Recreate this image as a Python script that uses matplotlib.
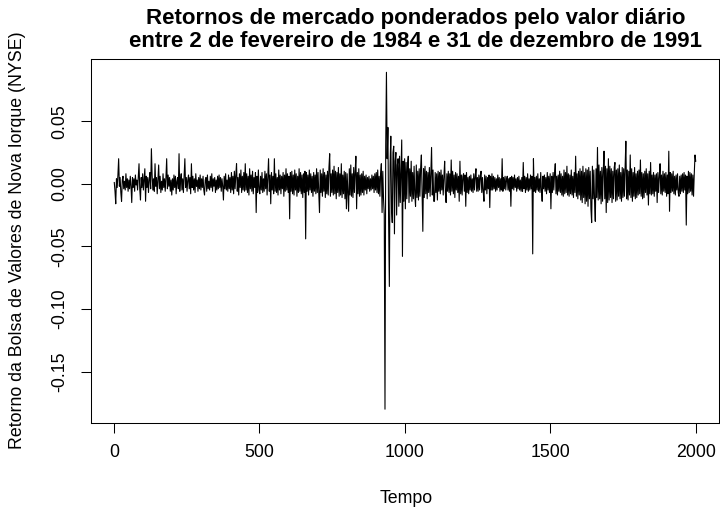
import numpy as np
import matplotlib.pyplot as plt

plt.rcParams['font.family'] = ['Liberation Sans', 'DejaVu Sans']

# Retornos diarios (em milesimos); uma linha = 50 dias
retornos_milesimos = [
    1, -6, -16, 4, -3, 7, 20, -2, 5, -7, -14, 3, 6, -4, 2, -5, 8, -3, 4, -6,
    3, -4, 6, -2, -15, 5, -3, 4, -6, 7, -1, 3, -5, 6, 16, -4, -13, 5, -3, 8,
    -5, 4, 12, -14, 6, -3, 5, -7, 3, 9, -4, 28, 7, -5, 4, -6, 16, -2, 5, -8,
    3, 15, -4, 6, -7, 2, -5, 8, -3, 4, -6, 5, 20, -4, 7, -2, 5, -6, 3, -9,
    4, -5, 7, -3, 6, -8, 2, 5, -4, 24, -6, 3, 8, -5, 4, -7, 6, 20, -3, 5,
    -6, 3, 7, -4, 5, -8, 16, -3, 6, -5, 4, -7, 8, -2, 3, -6, 5, -4, 7, -5,
    4, -3, 6, -5, -9, 3, 5, -6, 7, -4, 2, -5, 6, -3, 8, -6, 4, -2, 5, -7,
    3, -5, 6, -4, 7, -3, 5, -6, 4, -2, -13, 6, -4, 8, -5, 3, -6, 7, -4, 5,
    -7, 9, -5, 6, -8, 10, -4, 7, 16, -6, 5, -9, 8, -3, 11, -7, 6, -5, 9, -6,
    16, -5, 8, -7, 6, -9, 12, -4, 7, -6, 10, -8, 5, -3, 9, -23, 6, -7, 11, -5,
    -8, 6, -5, 9, -7, 4, -6, 10, -4, 8, -9, 5, 20, -6, 7, -16, 9, -5, 6, -8,
    20, -6, 8, -7, 5, -9, 11, -5, 7, -8, 6, -4, 9, -10, 7, -6, 12, -5, 8, -7,
    6, -28, 9, -6, 10, -8, 7, -9, 11, -5, 8, -10, 6, -7, 12, -6, 9, -8, 7, -11,
    8, -7, 10, -44, 9, -6, 7, -9, 11, -5, 8, -7, 6, -10, 9, -6, 7, -8, 12, -7,
    9, -8, -23, 11, -7, 8, -10, 12, -6, 9, -11, 7, -8, 10, -9, 13, 24, -10, 8, -7,
    11, -9, 14, -8, 10, -12, 9, -7, 13, -10, 8, -9, 16, -11, 7, -8, 10, -12, 9, -20,
    8, -6, -22, 12, -9, 15, -10, 8, -11, 13, -7, 10, 22, -20, 9, -8, 12, -10, 7, -9,
    8, -7, 10, -9, 6, -5, 7, -8, 5, -4, 6, -6, 4, -5, 7, -4, 6, -7, 8, -5,
    9, -7, 11, -8, 6, -10, 8, 16, -23, 10, -12, -25, -180, 30, 89, 20, 45, -30, -82, 15,
    38, -20, -31, 25, 30, -40, 18, 25, -25, 15, 20, -18, 22, -15, 12, 35, -58, 18, -14, 20,
    -20, 17, -12, 15, 22, -15, 12, -10, 18, -14, 9, -12, 14, -9, -18, 15, -11, 10, -13, 12,
    -10, 13, 23, -9, -38, 12, -11, 14, -8, 10, -12, 9, -7, 13, -10, 8, 29, -9, 11, -14,
    -14, 9, -7, 8, -13, 10, -6, 9, -8, 11, -5, 7, -9, 6, 18, -7, -15, 8, -6, 10,
    -7, 8, -9, 19, -6, 10, -8, 7, -11, 9, -5, 8, -7, 6, -14, 18, -8, 7, -9, 6,
    8, -6, 7, -18, 9, -7, 5, -8, 6, -5, 7, -6, 4, -7, 8, -5, 6, 12, -6, 5,
    -6, 7, -5, 6, 10, -7, 5, -6, -14, 7, -5, 6, -8, 5, -4, 7, -19, 6, -5, 8,
    -5, 6, -4, 5, -6, 4, -5, 7, -3, 5, -6, 4, -5, 20, -6, 5, -4, 6, -5, 3,
    6, -5, 4, -6, 5, -18, 6, -4, 5, -5, 7, -3, 4, -6, 5, -4, 6, -5, 3, -6,
    5, -6, 17, -4, 6, -7, 5, -5, 8, -6, 4, -5, 7, -4, 6, -56, 20, -6, 5, -7,
    6, -5, 8, -6, 4, -7, 9, -5, -14, 6, -4, 7, -6, 5, -8, 9, -5, 6, -7, 8,
    -20, 6, -7, 9, -5, 8, 16, -8, 6, -9, 7, -6, 10, -7, 8, -9, 6, -10, 11, -8,
    9, -7, 14, -9, 8, -10, 7, -8, 11, -9, 6, -11, 9, -7, 22, -10, 8, -12, 10, -9,
    12, -13, 10, -15, 14, -11, 9, -16, 12, -14, 11, -18, 13, -12, 10, -20, -31, 14, -12, 11,
    -14, -30, 12, -11, 29, -13, 15, -12, 10, -16, 13, -14, 11, 26, -12, 14, -23, 12, -15, 20,
    -13, 14, -11, 12, -15, 10, -12, 13, 17, -14, 11, -13, 12, -10, 15, -12, 9, -14, 13, -11,
    12, -10, 14, 34, -12, 11, -13, 10, -9, 23, -11, 12, -14, 9, -10, 13, -12, 8, -11, 10,
    -9, 11, -8, 19, -10, 9, -12, 8, -11, 10, -7, 12, -9, 8, -17, 10, -8, 17, -9, 7,
    -8, 9, -10, 7, -6, 8, -15, 9, -7, 6, 16, -8, 7, -9, 10, -6, 8, -7, 9, -10,
    7, -8, 26, -22, 9, -7, 8, -6, 10, -8, 6, -9, 7, -5, 8, -7, -10, 6, -8, 7,
    -6, 8, -7, 9, -5, 7, -33, 6, -8, 10, -7, 9, -6, 8, -9, 7, -10, 8, 23, 18,
]

xticks = [0, 500, 1000, 1500, 2000]
yticks = [-0.15, -0.10, -0.05, 0.00, 0.05]
ytick_labels = ["-0.15", "-0.10", "-0.05", "0.00", "0.05"]

retornos = np.array(retornos_milesimos) / 1000.0
tempo = np.linspace(1, 2000, len(retornos))

fig = plt.figure(figsize=(7.2, 5.08), dpi=100)
ax = fig.add_axes([0.1264, 0.1679, 0.8722, 0.7154])

ax.plot(tempo, retornos, color='black', linewidth=0.8)

# limites no estilo do R (4% de folga)
ax.set_xlim(-79, 2080)
ax.set_ylim(-0.1908, 0.0994)

ax.set_xticks(xticks)
ax.set_xticklabels([str(v) for v in xticks])
ax.set_yticks(yticks)
ax.set_yticklabels(ytick_labels, rotation=90, va='center')

ax.tick_params(axis='both', direction='out', length=7.2, width=0.75,
               labelsize=12.8, colors='black')
ax.tick_params(axis='x', pad=8)
ax.tick_params(axis='y', pad=9)
for s in ax.spines.values():
    s.set_linewidth(0.75)

fig.text(0.577, 0.941, "Retornos de mercado ponderados pelo valor diário\n"
         "entre 2 de fevereiro de 1984 e 31 de dezembro de 1991",
         ha='center', va='center', fontsize=16, fontweight='bold',
         linespacing=1.12)
fig.text(0.564, 0.018, "Tempo", ha='center', va='center', fontsize=12.8)
fig.text(0.025, 0.528, "Retorno da Bolsa de Valores de Nova Iorque (NYSE)",
         ha='center', va='center', rotation=90, fontsize=12.8)

fig.savefig('out.png', dpi=100)
